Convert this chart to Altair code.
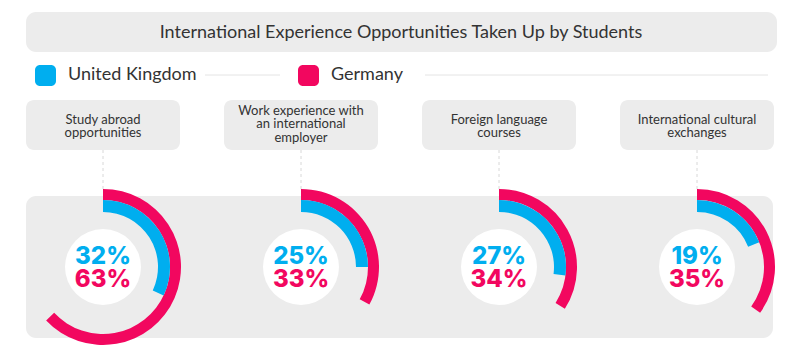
import math
import altair as alt
import pandas as pd

# ---- data ----
categories = [
    "Study abroad\nopportunities",
    "Work experience with\nan international\nemployer",
    "Foreign language\ncourses",
    "International cultural\nexchanges",
]
uk_values = [32, 25, 27, 19]
germany_values = [63, 33, 34, 35]
series = ["United Kingdom", "Germany"]
series_colors = ["#00AEEF", "#F2075F"]
title_text = "International Experience Opportunities Taken Up by Students"

rows = []
for c, u, g in zip(categories, uk_values, germany_values):
    rows.append({"category": c, "series": series[0], "value": u})
    rows.append({"category": c, "series": series[1], "value": g})
long_df = pd.DataFrame(rows)
cat_df = pd.DataFrame({"category": categories})

BOX = "#ececec"
TEXT = "#333333"
FONT = "Lato"

xscale = alt.Scale(type="point", domain=categories, range=[95, 689], padding=0)
X = alt.X("category:N", scale=xscale, axis=None, sort=categories)
color = alt.Color("series:N", scale=alt.Scale(domain=series, range=series_colors), legend=None)
theta_scale = alt.Scale(domain=[0, 100], range=[0, 2 * math.pi])

one = pd.DataFrame({"k": [0]})

# background panel
panel = alt.Chart(one).mark_rect(color=BOX, cornerRadius=10).encode(
    x=alt.value(18), x2=alt.value(765), y=alt.value(188), y2=alt.value(330)
)
# title box and text
title_box = alt.Chart(one).mark_rect(color=BOX, cornerRadius=10).encode(
    x=alt.value(18), x2=alt.value(769), y=alt.value(4), y2=alt.value(44)
)
title = alt.Chart(one).mark_text(font=FONT, fontSize=18, color=TEXT, align="center", baseline="middle").encode(
    x=alt.value(393), y=alt.value(25), text=alt.value(title_text)
)

# legend
legend_layers = []
swatch_x = [27, 290]
text_x = [60, 323]
line_x = [(197, 272), (417, 760)]
for i, s in enumerate(series):
    d = pd.DataFrame({"series": [s]})
    legend_layers.append(
        alt.Chart(d).mark_rect(cornerRadius=5).encode(
            x=alt.value(swatch_x[i]), x2=alt.value(swatch_x[i] + 21),
            y=alt.value(57), y2=alt.value(78), color=color,
        )
    )
    legend_layers.append(
        alt.Chart(d).mark_text(font=FONT, fontSize=18, color=TEXT, align="left", baseline="middle").encode(
            x=alt.value(text_x[i]), y=alt.value(67), text="series:N"
        )
    )
    legend_layers.append(
        alt.Chart(d).mark_rule(color="#e4e4e4", strokeWidth=1).encode(
            x=alt.value(line_x[i][0]), x2=alt.value(line_x[i][1]), y=alt.value(67)
        )
    )

# category label boxes
label_box = alt.Chart(cat_df).mark_rect(color=BOX, cornerRadius=8, width=154).encode(
    x=X, y=alt.value(92), y2=alt.value(142)
)

def label_layer(nlines, ypos):
    return (
        alt.Chart(cat_df)
        .transform_calculate(n="split(datum.category, '\\n').length")
        .transform_filter(alt.datum.n == nlines)
        .mark_text(font=FONT, fontSize=13, color=TEXT, lineBreak="\n", lineHeight=13.3,
                   align="center", baseline="middle")
        .encode(x=X, y=alt.value(ypos), text="category:N")
    )

label_text2 = label_layer(2, 111.5)
label_text3 = label_layer(3, 103)

connector = alt.Chart(cat_df).mark_rule(color="#d8d8d8", strokeDash=[3, 3], strokeWidth=1).encode(
    x=X, y=alt.value(142), y2=alt.value(181)
)

# white inner circle
inner = alt.Chart(cat_df).mark_arc(radius=38, theta=0, theta2=2 * math.pi, color="white").encode(
    x=X, y=alt.value(259)
)

# arcs
def arc_layer(s, r_out, r_in):
    return (
        alt.Chart(long_df)
        .transform_filter(alt.datum.series == s)
        .transform_calculate(start="0")
        .mark_arc(radius=r_out, radius2=r_in)
        .encode(
            x=X,
            y=alt.value(259),
            theta=alt.Theta("value:Q", scale=theta_scale),
            theta2="start:Q",
            color=color,
        )
    )

arc_de = arc_layer(series[1], 78, 67)
arc_uk = arc_layer(series[0], 67, 55)

def pct_text(s, ypos):
    return (
        alt.Chart(long_df)
        .transform_filter(alt.datum.series == s)
        .transform_calculate(label="datum.value + '%'")
        .mark_text(font="Inter", fontSize=24, fontWeight=800, align="center", baseline="middle")
        .encode(x=X, y=alt.value(ypos), text="label:N", color=color)
    )

pct_uk = pct_text(series[0], 249)
pct_de = pct_text(series[1], 272)

chart = alt.layer(
    panel, title_box, title, *legend_layers, label_box, label_text2, label_text3, connector,
    inner, arc_de, arc_uk, pct_uk, pct_de,
).properties(
    width=784, height=347, padding=0, autosize=alt.AutoSizeParams(type="none"), background="white"
).configure_view(stroke=None)

chart.save("out.html", embed_options={"renderer": "svg", "actions": False})
